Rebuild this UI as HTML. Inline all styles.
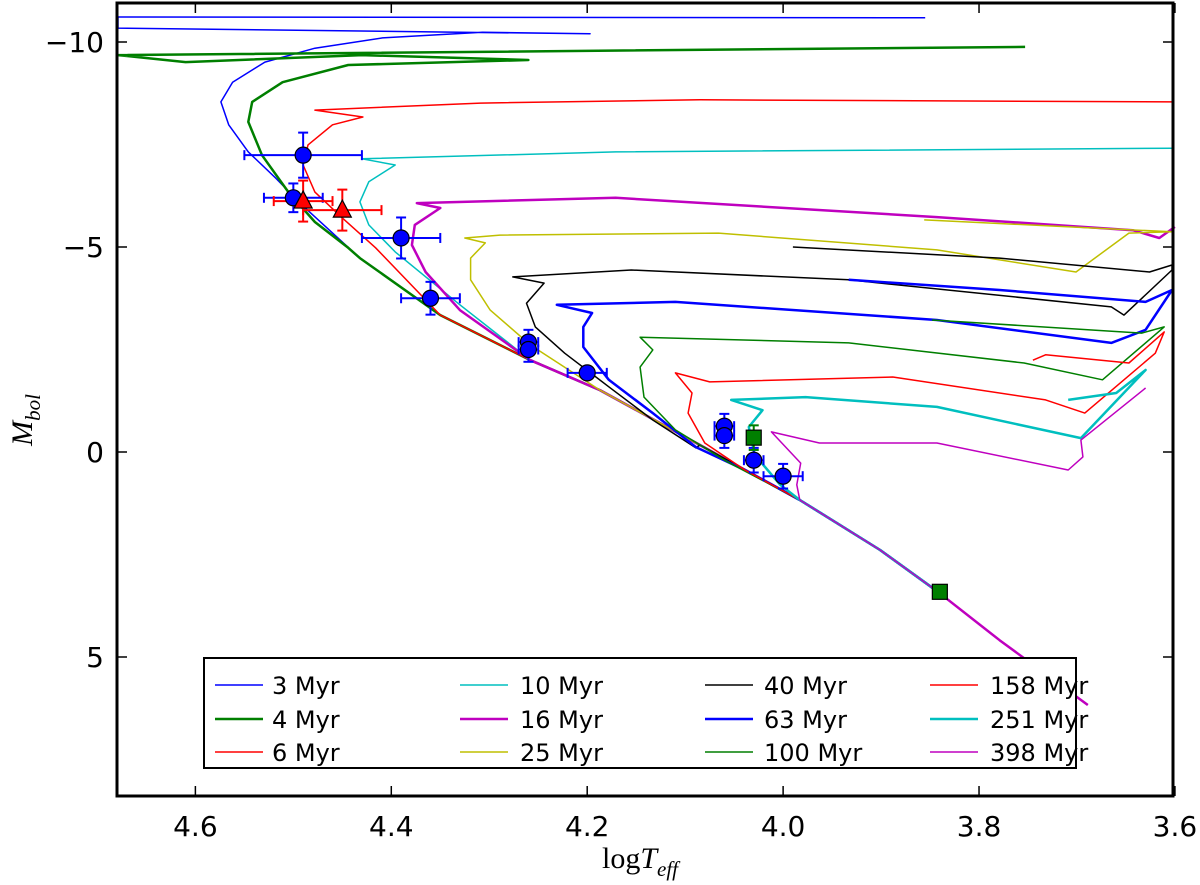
<!DOCTYPE html>
<html><head><meta charset="utf-8">
<style>
html,body{margin:0;padding:0;background:#fff;}
svg{display:block;}
text{font-family:"DejaVu Sans","Liberation Sans",sans-serif;}
text.serif{font-family:"Liberation Serif",serif;}
</style></head>
<body>
<svg id="chart" width="1200" height="885" viewBox="0 0 1200 885" xmlns="http://www.w3.org/2000/svg">
<g id="tracks"></g>
<g id="points"></g>
<rect x="117" y="3" width="1056" height="793" fill="none" stroke="#000" stroke-width="3"/>
<g id="axes"></g>
<g id="legend"></g>
<text class="serif" x="640" y="868" text-anchor="middle" font-size="30">log<tspan font-style="italic">T</tspan><tspan font-style="italic" font-size="21" dy="8">eff</tspan></text>
<text class="serif" transform="translate(32,420) rotate(-90)" text-anchor="middle" font-size="30" font-style="italic">M<tspan font-size="21" dy="8">bol</tspan></text>
</svg>
<script>
// axis domains
const xTicks = [4.6, 4.4, 4.2, 4.0, 3.8, 3.6];
const xTickLabels = ["4.6", "4.4", "4.2", "4.0", "3.8", "3.6"];
const yTicks = [-10, -5, 0, 5];
const yTickLabels = ["\u221210", "\u22125", "0", "5"];

// isochrone names, colours
const ages = ["3 Myr","4 Myr","6 Myr","10 Myr","16 Myr","25 Myr","40 Myr","63 Myr","100 Myr","158 Myr","251 Myr","398 Myr"];
const colors = ["#0000ff","#007f00","#ff0000","#00bfbf","#bf00bf","#bfbf00","#000000","#0000ff","#007f00","#ff0000","#00bfbf","#bf00bf"];
const widths = [1.5,2.5,1.5,1.5,2.5,1.5,1.5,2.5,1.5,1.5,2.5,1.5];

// shared main sequence [logT, Mbol]
const mainSeq = [[4.491,-6.02],[4.432,-4.73],[4.350,-3.34],[4.258,-2.24],[4.187,-1.51],[4.085,-0.17],[3.983,1.17],[3.901,2.39],[3.842,3.41]];
const mainSeqExt = [[3.779,4.59],[3.689,6.17]];

// upper parts of each isochrone [logT, Mbol]
const iso3 = [[3.855,-10.59],[4.679,-10.61],[4.679,-10.34],[4.197,-10.20],[4.307,-10.24],[4.409,-10.10],[4.478,-9.85],[4.529,-9.51],[4.562,-9.02],[4.574,-8.54],[4.566,-7.98],[4.546,-7.32],[4.518,-6.68],[4.491,-6.02]];
const iso4 = [[3.753,-9.88],[4.679,-9.68],[4.610,-9.51],[4.430,-9.68],[4.260,-9.56],[4.444,-9.44],[4.511,-9.02],[4.542,-8.54],[4.546,-8.05],[4.532,-7.24],[4.505,-6.34],[4.478,-5.61],[4.444,-4.98]];
const iso6 = [[3.603,-8.54],[4.085,-8.59],[4.309,-8.51],[4.478,-8.34],[4.429,-8.17],[4.460,-7.98],[4.485,-7.49],[4.490,-7.00],[4.478,-6.34],[4.450,-5.71],[4.416,-4.98]];
const iso10 = [[3.603,-7.41],[4.171,-7.32],[4.430,-7.15],[4.396,-7.00],[4.423,-6.59],[4.432,-6.10],[4.423,-5.54],[4.396,-4.88],[4.330,-3.59]];
const iso16 = [[3.600,-5.49],[3.616,-5.22],[3.643,-5.41],[3.843,-5.73],[4.171,-6.20],[4.374,-6.07],[4.350,-5.95],[4.376,-5.54],[4.379,-5.05],[4.365,-4.39],[4.330,-3.46]];
const iso25 = [[3.856,-5.66],[3.603,-5.37],[3.647,-5.34],[3.701,-4.39],[3.843,-4.93],[4.066,-5.34],[4.289,-5.29],[4.325,-5.22],[4.304,-5.10],[4.319,-4.73],[4.319,-4.20],[4.299,-3.46],[4.258,-2.61]];
const iso40 = [[3.990,-5.00],[3.779,-4.73],[3.626,-4.39],[3.603,-4.56],[3.603,-4.44],[3.652,-3.34],[3.665,-3.54],[3.933,-4.20],[4.155,-4.44],[4.276,-4.27],[4.244,-4.12],[4.262,-3.63],[4.253,-3.05],[4.223,-2.41],[4.178,-1.59],[4.133,-0.78],[4.089,-0.10]];
const iso63 = [[3.933,-4.20],[3.779,-3.95],[3.630,-3.66],[3.603,-3.95],[3.630,-2.98],[3.665,-2.66],[3.843,-3.22],[4.110,-3.66],[4.231,-3.59],[4.195,-3.39],[4.204,-3.05],[4.204,-2.56],[4.178,-1.76],[4.133,-0.95],[4.089,-0.12],[4.039,0.44]];
const iso100 = [[3.848,-3.22],[3.634,-2.90],[3.611,-3.05],[3.674,-1.76],[3.754,-2.17],[3.933,-2.66],[4.146,-2.80],[4.133,-2.49],[4.146,-2.07],[4.142,-1.34],[4.110,-0.54],[4.057,0.24]];
const iso158 = [[3.745,-2.24],[3.732,-2.37],[3.647,-2.17],[3.611,-2.93],[3.620,-2.41],[3.692,-0.95],[3.732,-1.27],[3.888,-1.83],[4.075,-1.71],[4.110,-1.93],[4.093,-1.44],[4.097,-0.95],[4.080,-0.22],[4.039,0.44]];
const iso251 = [[3.709,-1.27],[3.660,-1.44],[3.630,-2.00],[3.696,-0.34],[3.843,-1.10],[3.977,-1.34],[4.053,-1.27],[4.021,-1.02],[4.035,-0.61],[4.029,0.07],[4.003,0.80]];
const iso398 = [[3.630,-1.56],[3.696,-0.29],[3.694,0.12],[3.709,0.44],[3.843,-0.22],[3.963,-0.22],[4.012,-0.49],[3.982,0.27],[3.986,0.80]];
const isoList = [iso3,iso4,iso6,iso10,iso16,iso25,iso40,iso63,iso100,iso158,iso251,iso398];

// observed stars: logT, Mbol, xerr, yerr
const starT = [4.49,4.50,4.39,4.36,4.26,4.26,4.20,4.06,4.06,4.03,4.00];
const starM = [-7.24,-6.20,-5.22,-3.75,-2.68,-2.50,-1.93,-0.63,-0.40,0.20,0.59];
const starTerr = [0.06,0.03,0.04,0.03,0.01,0.01,0.02,0.01,0.01,0.01,0.02];
const starMerr = [0.55,0.35,0.5,0.4,0.3,0.3,0.12,0.3,0.3,0.3,0.3];
const triT = [4.49,4.45];
const triM = [-6.12,-5.90];
const triTerr = [0.03,0.04];
const triMerr = [0.5,0.5];
const sqT = [4.03,3.84];
const sqM = [-0.35,3.41];
const sqMerr = [0.3,0];

const NS = "http://www.w3.org/2000/svg";
const X0 = 118, X1 = 1172, T0 = 4.679, T1 = 3.603;
function sx(t){ return X0 + (T0 - t) / (T0 - T1) * (X1 - X0); }
function sy(m){ return 452 + m * 41; }
function mk(tag, attrs, parent){ const e = document.createElementNS(NS, tag); for (const k in attrs) e.setAttribute(k, attrs[k]); parent.appendChild(e); return e; }

const tracks = document.getElementById('tracks');
isoList.forEach((arr, i) => {
  let pts = arr.slice();
  const lastT = arr[arr.length-1][0];
  mainSeq.forEach(p => { if (p[0] < lastT - 0.001) pts.push(p); });
  if (i === 11 || i === 4) mainSeqExt.forEach(p => pts.push(p));
  const d = pts.map((p, j) => (j ? 'L' : 'M') + sx(p[0]).toFixed(1) + ',' + sy(p[1]).toFixed(1)).join(' ');
  const path = mk('path', {d: d, fill: 'none', stroke: colors[i], 'stroke-width': widths[i], 'stroke-linejoin': 'round'}, tracks);
  
  
});

const pg = document.getElementById('points');
function errbars(t, m, te, me, col){
  const g = mk('g', {stroke: col, 'stroke-width': 2}, pg);
  
  
  const x = sx(t), y = sy(m);
  if (te > 0) { const xa = sx(t - te), xb = sx(t + te);
    mk('line', {x1: xa, y1: y, x2: xb, y2: y}, g);
    mk('line', {x1: xa, y1: y-5, x2: xa, y2: y+5}, g);
    mk('line', {x1: xb, y1: y-5, x2: xb, y2: y+5}, g); }
  if (me > 0) { const ya = sy(m - me), yb = sy(m + me);
    mk('line', {x1: x, y1: ya, x2: x, y2: yb}, g);
    mk('line', {x1: x-5, y1: ya, x2: x+5, y2: ya}, g);
    mk('line', {x1: x-5, y1: yb, x2: x+5, y2: yb}, g); }
}
starT.forEach((t, i) => errbars(t, starM[i], starTerr[i], starMerr[i], '#0000ff'));
triT.forEach((t, i) => errbars(t, triM[i], triTerr[i], triMerr[i], '#ff0000'));
sqT.forEach((t, i) => errbars(t, sqM[i], 0.006, sqMerr[i], '#007f00'));
starT.forEach((t, i) => {
  const c = mk('circle', {cx: sx(t), cy: sy(starM[i]), r: 8, fill: '#0000ff', stroke: '#000', 'stroke-width': 1.2}, pg);
  
  
});
triT.forEach((t, i) => {
  const x = sx(t), y = sy(triM[i]);
  const p = mk('polygon', {points: `${x},${y-10} ${x-9},${y+7} ${x+9},${y+7}`, fill: '#ff0000', stroke: '#000', 'stroke-width': 1.2}, pg);
  
  
});
sqT.forEach((t, i) => {
  const x = sx(t), y = sy(sqM[i]);
  const r = mk('rect', {x: x-7.5, y: y-7.5, width: 15, height: 15, fill: '#007f00', stroke: '#000', 'stroke-width': 1.2}, pg);
  
  
});

const ax = document.getElementById('axes');
xTicks.forEach((t, i) => {
  const x = sx(t);
  mk('line', {x1: x, y1: 796, x2: x, y2: 786, stroke: '#000', 'stroke-width': 1.5}, ax);
  mk('line', {x1: x, y1: 3, x2: x, y2: 13, stroke: '#000', 'stroke-width': 1.5}, ax);
  const tx = mk('text', {x: x, y: 836, 'text-anchor': 'middle', 'font-size': 28}, ax);
  tx.textContent = xTickLabels[i];
  
  
});
yTicks.forEach((m, i) => {
  const y = sy(m);
  mk('line', {x1: 117, y1: y, x2: 127, y2: y, stroke: '#000', 'stroke-width': 1.5}, ax);
  mk('line', {x1: 1173, y1: y, x2: 1163, y2: y, stroke: '#000', 'stroke-width': 1.5}, ax);
  const tx = mk('text', {x: 104, y: y + 10, 'text-anchor': 'end', 'font-size': 28}, ax);
  tx.textContent = yTickLabels[i];
  
  
});

const lg = document.getElementById('legend');
const box = mk('rect', {x: 204, y: 658, width: 872, height: 110, fill: '#fff', stroke: '#000', 'stroke-width': 2}, lg);


const colLine = [215, 460, 705, 930];
const colText = [272, 520, 764, 990];
const rowY = [685, 719, 752];
ages.forEach((a, i) => {
  const c = Math.floor(i / 3), r = i % 3;
  const g = mk('g', {}, lg);
  
  
  mk('line', {x1: colLine[c], y1: rowY[r], x2: colLine[c] + 48, y2: rowY[r], stroke: colors[i], 'stroke-width': widths[i]}, g);
  const tx = mk('text', {x: colText[c], y: rowY[r] + 9, 'font-size': 24}, g);
  tx.textContent = a;
});
</script>
</body></html>
